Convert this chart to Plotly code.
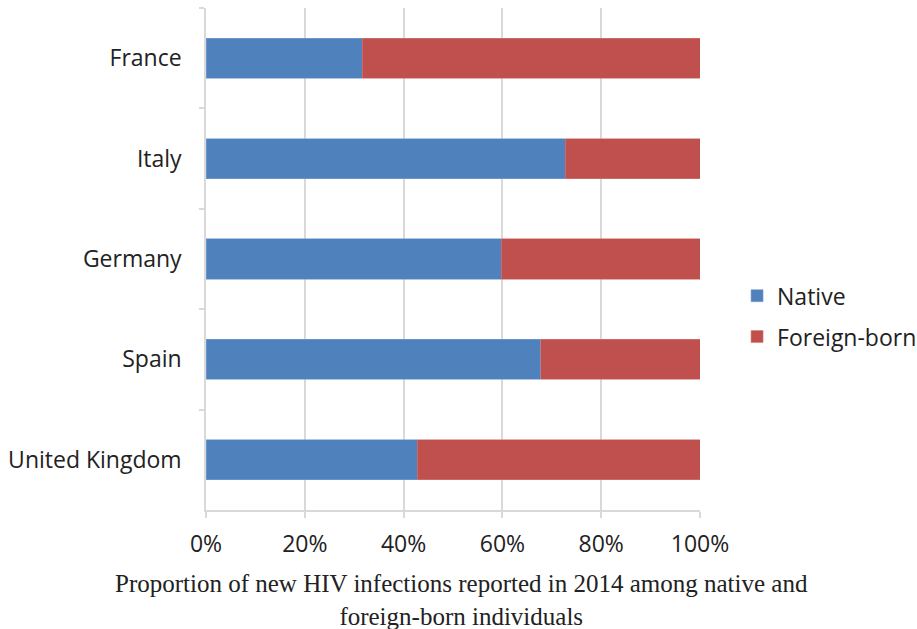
import plotly.graph_objects as go

countries = ["France", "Italy", "Germany", "Spain", "United Kingdom"]
native = [31.6, 72.7, 59.8, 67.8, 42.8]
foreign = [100 - v for v in native]
x_ticks = [0, 20, 40, 60, 80, 100]
x_labels = ["0%", "20%", "40%", "60%", "80%", "100%"]
title_text = ("Proportion of new HIV infections reported in 2014 among native and"
              "<br>foreign-born individuals")

FONT = "Open Sans"
GRID = "#d9d9d9"
TXT = "#222222"
FS = 23

fig = go.Figure()
fig.add_trace(go.Bar(y=countries, x=native, name="Native", orientation="h",
                     marker=dict(color="#4F81BD", line=dict(color="#7aa0d4", width=0.6)),
                     width=0.4, legendgroup="a"))
fig.add_trace(go.Bar(y=countries, x=foreign, name="Foreign-born", orientation="h",
                     marker=dict(color="#C0504D", line=dict(color="#d27d7a", width=0.6)),
                     width=0.4, legendgroup="b"))

fig.update_layout(
    barmode="stack",
    width=917, height=629,
    margin=dict(l=206, r=217, t=8, b=119, autoexpand=False),
    paper_bgcolor="white", plot_bgcolor="white",
    font=dict(family=FONT, size=FS, color=TXT),
    showlegend=True,
    legend=dict(x=1.075, xanchor="left", y=0.386, yanchor="middle",
                traceorder="grouped", tracegroupgap=8,
                font=dict(family=FONT, size=FS, color=TXT)),
    xaxis=dict(range=[0, 100], tickvals=x_ticks, ticktext=x_labels,
               showgrid=True, gridcolor=GRID, gridwidth=1.5,
               showline=True, linecolor=GRID, linewidth=1.5,
               ticks="outside", ticklen=6, tickcolor=GRID, tickwidth=1.5,
               zeroline=False, ticklabelstandoff=7,
               tickfont=dict(family=FONT, size=FS, color=TXT)),
    yaxis=dict(categoryorder="array", categoryarray=countries, autorange="reversed",
               showgrid=False, showline=True, linecolor=GRID, linewidth=1.5,
               ticks="outside", ticklen=5, tickcolor=GRID, tickwidth=1.5,
               tickson="boundaries", ticklabelstandoff=18,
               tickfont=dict(family=FONT, size=FS, color=TXT)),
)

fig.add_annotation(text=title_text, xref="paper", yref="paper",
                   x=0.518, y=0, yshift=-122, xanchor="center", yanchor="bottom",
                   showarrow=False, align="center",
                   font=dict(family="Liberation Serif", size=25, color=TXT))

fig.write_html("out.html")
